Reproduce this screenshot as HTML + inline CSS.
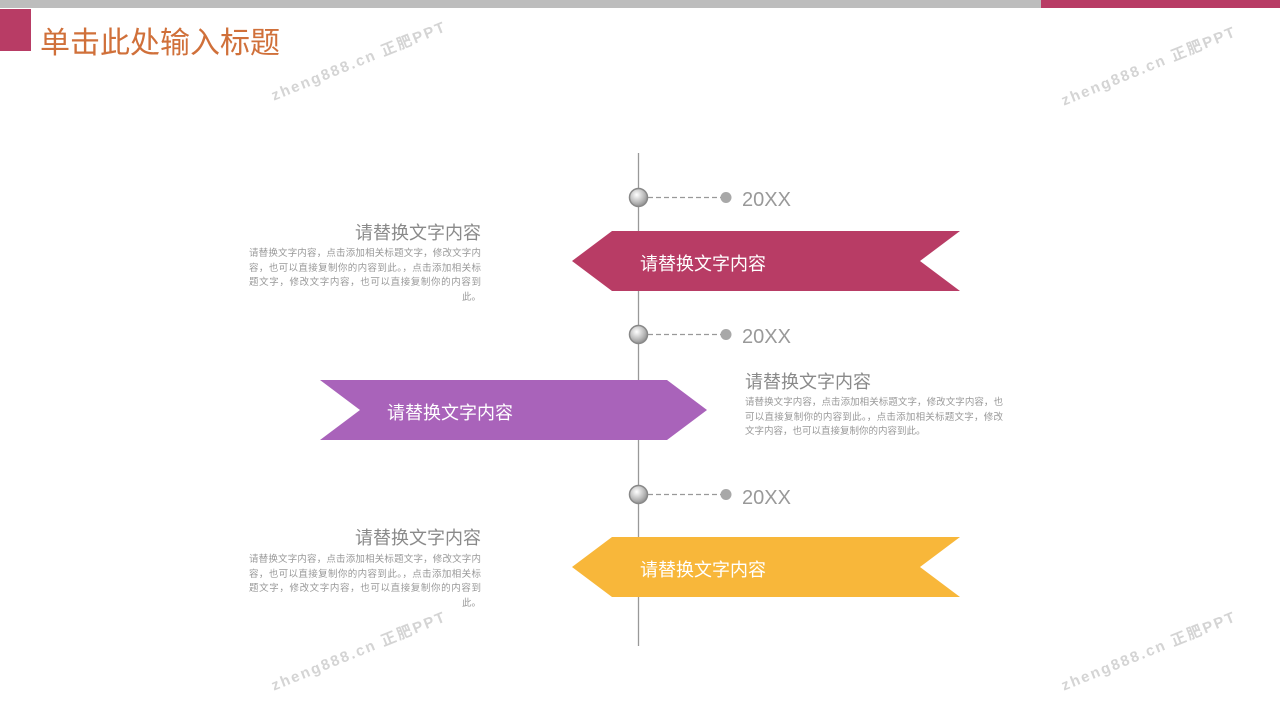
<!DOCTYPE html>
<html><head><meta charset="utf-8"><style>
body{margin:0;width:1280px;height:720px;position:relative;background:#fff;overflow:hidden;font-family:"Liberation Sans","Noto Sans CJK SC",sans-serif}
.a{position:absolute;white-space:nowrap}
.h{font-size:18px;color:#8a8a8a}
.p{font-size:9.5px;color:#999;line-height:14.5px;width:232px;white-space:normal;text-align:justify;text-align-last:right}
.wm{position:absolute;color:#d4d4d4;font-size:15px;font-weight:bold;letter-spacing:2px;transform:rotate(-22deg);white-space:nowrap}
</style></head><body>
<div class="a" style="left:0;top:0;width:1280px;height:8px;background:#bdbdbd"></div>
<div class="a" style="left:1041px;top:0;width:239px;height:8px;background:#b83c65"></div>
<div class="a" style="left:0;top:9px;width:31px;height:42px;background:#b83c65"></div>
<div class="a" style="left:40px;top:18px;font-size:30px;color:#d0703a">单击此处输入标题</div>
<div class="wm" style="left:265px;top:50px">zheng888.cn 正肥PPT</div>
<div class="wm" style="left:1055px;top:55px">zheng888.cn 正肥PPT</div>
<div class="wm" style="left:265px;top:640px">zheng888.cn 正肥PPT</div>
<div class="wm" style="left:1055px;top:640px">zheng888.cn 正肥PPT</div>
<svg class="a" style="left:0;top:0" width="1280" height="720">
<defs><radialGradient id="g" cx="40%" cy="35%" r="70%"><stop offset="0" stop-color="#fff"/><stop offset="0.6" stop-color="#bbb"/><stop offset="1" stop-color="#888"/></radialGradient></defs>
<line x1="638.5" y1="153" x2="638.5" y2="646" stroke="#999" stroke-width="1.3"/>
<polygon points="572,261 612,231 960,231 920,261 960,291 612,291" fill="#b83c65"/>
<polygon points="320,380 667,380 707,410 667,440 320,440 360,410" fill="#a963ba"/>
<polygon points="572,567 612,537 960,537 920,567 960,597 612,597" fill="#f8b73a"/>
<g stroke="#999" stroke-dasharray="5,3" stroke-width="1.2">
<line x1="648" y1="197.5" x2="722" y2="197.5"/><line x1="648" y1="334.5" x2="722" y2="334.5"/><line x1="648" y1="494.5" x2="722" y2="494.5"/></g>
<g fill="#a8a8a8"><circle cx="726" cy="197.5" r="5.5"/><circle cx="726" cy="334.5" r="5.5"/><circle cx="726" cy="494.5" r="5.5"/></g>
<g fill="url(#g)" stroke="#888" stroke-width="1.5"><circle cx="638.5" cy="197.5" r="9"/><circle cx="638.5" cy="334.5" r="9"/><circle cx="638.5" cy="494.5" r="9"/></g>
</svg>
<div class="a" style="left:742px;top:189px;font-size:20px;color:#999">20XX</div>
<div class="a" style="left:742px;top:326px;font-size:20px;color:#999">20XX</div>
<div class="a" style="left:742px;top:487px;font-size:20px;color:#999">20XX</div>
<div class="a" style="left:640px;top:250px;font-size:18px;color:#fff">请替换文字内容</div>
<div class="a" style="left:387px;top:399px;font-size:18px;color:#fff">请替换文字内容</div>
<div class="a" style="left:640px;top:556px;font-size:18px;color:#fff">请替换文字内容</div>
<div class="a h" style="left:355px;top:219px">请替换文字内容</div>
<div class="a p" style="left:249px;top:247px">请替换文字内容，点击添加相关标题文字，修改文字内容，也可以直接复制你的内容到此。，点击添加相关标题文字，修改文字内容，也可以直接复制你的内容到此。</div>
<div class="a h" style="left:745px;top:368px">请替换文字内容</div>
<div class="a p" style="left:745px;top:396px;width:258px;text-align-last:left">请替换文字内容，点击添加相关标题文字，修改文字内容，也可以直接复制你的内容到此。，点击添加相关标题文字，修改文字内容，也可以直接复制你的内容到此。</div>
<div class="a h" style="left:355px;top:524px">请替换文字内容</div>
<div class="a p" style="left:249px;top:553px">请替换文字内容，点击添加相关标题文字，修改文字内容，也可以直接复制你的内容到此。，点击添加相关标题文字，修改文字内容，也可以直接复制你的内容到此。</div>
</body></html>
